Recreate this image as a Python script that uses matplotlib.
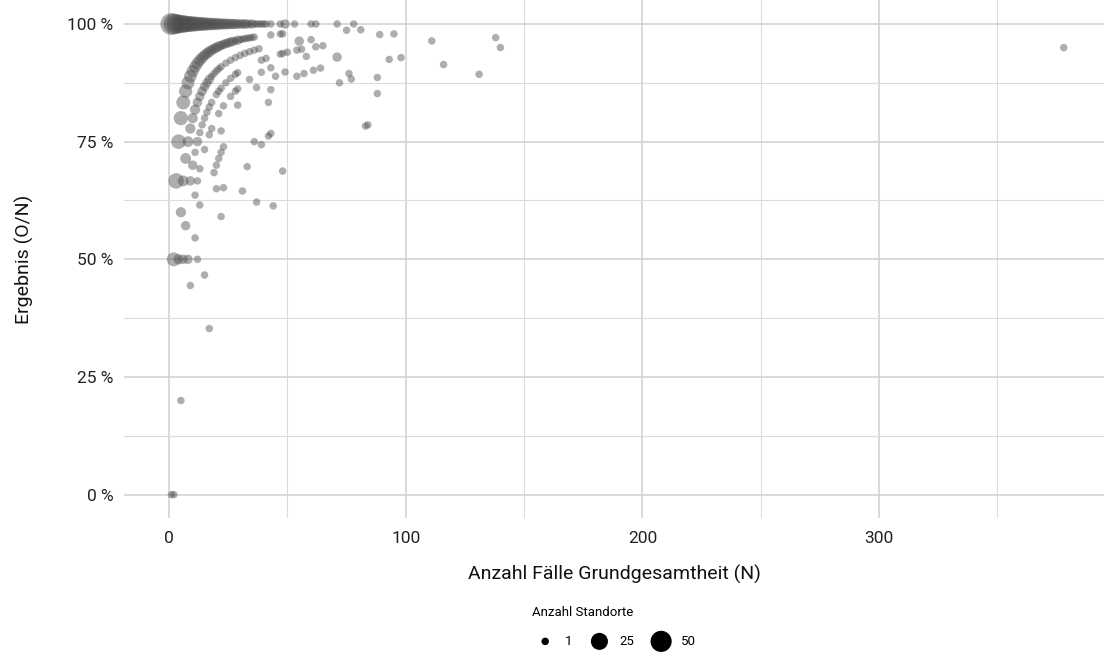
import numpy as np
import matplotlib
matplotlib.use("Agg")
import matplotlib.pyplot as plt
from matplotlib.ticker import MultipleLocator, FuncFormatter

plt.rcParams['font.family'] = ['Roboto', 'DejaVu Sans']

# Fälle Grundgesamtheit (N), davon erfüllt (O), Anzahl Standorte mit dieser Kombination
# O = N
n_voll = [1, 2, 3, 4, 5, 6, 7, 8, 9, 10, 11, 12, 13, 14, 15, 16, 17, 18, 19, 20,
          21, 22, 23, 24, 25, 26, 27, 28, 29, 30, 31, 32, 33, 34, 35, 36, 37, 38, 39, 40,
          41, 43, 47, 49, 53, 60, 62, 71, 78]
o_voll = [1, 2, 3, 4, 5, 6, 7, 8, 9, 10, 11, 12, 13, 14, 15, 16, 17, 18, 19, 20,
          21, 22, 23, 24, 25, 26, 27, 28, 29, 30, 31, 32, 33, 34, 35, 36, 37, 38, 39, 40,
          41, 43, 47, 49, 53, 60, 62, 71, 78]
s_voll = [56, 46, 40, 35, 31, 27, 24, 21, 19, 17, 15, 14, 12, 11, 10, 9, 8, 7, 7, 6,
          5, 5, 4, 4, 4, 3, 3, 3, 2, 2, 2, 2, 2, 1, 2, 1, 1, 1, 1, 1,
          1, 1, 1, 2, 1, 1, 1, 1, 1]

# O = N - 1
n_a = [2, 3, 4, 5, 6, 7, 8, 9, 10, 11, 12, 13, 14, 15, 16, 17, 18, 19, 20, 21,
       22, 23, 24, 25, 26, 27, 28, 29, 30, 31, 32, 33, 34, 35, 36, 43, 47, 48, 75, 81]
o_a = [1, 2, 3, 4, 5, 6, 7, 8, 9, 10, 11, 12, 13, 14, 15, 16, 17, 18, 19, 20,
       21, 22, 23, 24, 25, 26, 27, 28, 29, 30, 31, 32, 33, 34, 35, 42, 46, 47, 74, 80]
s_a = [12, 18, 14, 13, 12, 10, 9, 8, 7, 6, 6, 5, 5, 4, 4, 4, 3, 3, 3, 3,
       2, 2, 2, 2, 2, 2, 1, 2, 1, 1, 1, 1, 1, 1, 1, 1, 1, 1, 1, 1]

# O = N - 2
n_b = [4, 6, 8, 9, 10, 11, 12, 13, 14, 15, 16, 17, 18, 19, 20, 21, 22, 24, 26, 28,
       30, 32, 34, 36, 38, 55, 60, 89, 95]
o_b = [2, 4, 6, 7, 8, 9, 10, 11, 12, 13, 14, 15, 16, 17, 18, 19, 20, 22, 24, 26,
       28, 30, 32, 34, 36, 53, 58, 87, 93]
s_b = [3, 4, 4, 3, 3, 3, 2, 2, 2, 2, 2, 2, 1, 1, 1, 1, 1, 1, 1, 1,
       1, 1, 1, 1, 1, 2, 1, 1, 1]

# O = N - 3
n_c = [6, 9, 12, 13, 14, 15, 16, 17, 18, 20, 21, 22, 24, 26, 28, 29, 39, 41, 47, 48,
       50, 54, 56, 62, 65]
o_c = [3, 6, 9, 10, 11, 12, 13, 14, 15, 17, 18, 19, 21, 23, 25, 26, 36, 38, 44, 45,
       47, 51, 53, 59, 62]
s_c = [2, 2, 2, 1, 1, 1, 1, 1, 1, 1, 1, 1, 1, 1, 1, 1, 1, 1, 1, 1,
       1, 1, 1, 1, 1]

# übrige Standorte
n_rest = [8, 12, 17, 18, 21, 23, 26, 28, 22, 23, 22, 21, 20, 19, 7, 11, 15, 10, 13, 20,
          23, 31, 33, 48, 11, 13, 5, 22, 37, 44, 7, 11, 12, 15, 9, 17, 5, 1, 2, 29,
          42, 43, 45, 49, 39, 43, 37, 34, 29, 42, 43, 36, 39, 54, 57, 61, 64, 58, 71,
          72, 76, 77, 88, 88, 93, 98, 83, 84, 111, 116, 131, 138, 140, 378]
o_rest = [4, 8, 13, 14, 17, 19, 22, 24, 17, 17, 16, 15, 14, 13, 5, 8, 11, 7, 9, 13,
          15, 20, 23, 33, 7, 8, 3, 13, 23, 27, 4, 6, 6, 7, 4, 6, 1, 0, 0, 24,
          35, 39, 40, 44, 35, 37, 32, 30, 25, 32, 33, 27, 29, 48, 51, 55, 58, 54, 66,
          63, 68, 68, 78, 75, 86, 91, 65, 66, 107, 106, 117, 134, 133, 359]
s_rest = [2, 1, 1, 1, 1, 1, 1, 1, 1, 1, 1, 1, 1, 1, 4, 1, 1, 2, 1, 1,
          1, 1, 1, 1, 1, 1, 3, 1, 1, 1, 2, 1, 1, 1, 1, 1, 1, 1, 1, 1,
          1, 1, 1, 1, 1, 1, 1, 1, 1, 1, 1, 1, 1, 1, 1, 1, 1, 1, 2,
          1, 1, 1, 1, 1, 1, 1, 1, 1, 1, 1, 1, 1, 1, 1]

legend_werte = [1, 25, 50]

n_all = np.array(n_voll + n_a + n_b + n_c + n_rest, dtype=float)
o_all = np.array(o_voll + o_a + o_b + o_c + o_rest, dtype=float)
s_all = np.array(s_voll + s_a + s_b + s_c + s_rest, dtype=float)


def groesse(v):
    # Flächenskala wie scale_size(): Durchmesser in Pixel -> Fläche in pt^2
    d = 7.5 + 1.95 * np.sqrt(np.maximum(np.asarray(v, dtype=float) - 1, 0))
    return (d * 0.72) ** 2


fig = plt.figure(figsize=(11.04, 6.55), dpi=100)
ax = fig.add_axes([0.1126, 0.2089, 0.8874, 0.7904])

# große Punkte zuerst zeichnen
order = np.argsort(-s_all)
ax.scatter(n_all[order], (o_all / n_all)[order], s=groesse(s_all[order]),
           color='#4d4d4d', alpha=0.45, edgecolors='none', zorder=3)

ax.set_xlim(-18.9, 395)
ax.set_ylim(-0.05, 1.05)
ax.xaxis.set_major_locator(MultipleLocator(100))
ax.xaxis.set_minor_locator(MultipleLocator(50))
ax.yaxis.set_major_locator(MultipleLocator(0.25))
ax.yaxis.set_minor_locator(MultipleLocator(0.125))
ax.yaxis.set_major_formatter(FuncFormatter(lambda v, p: f"{v * 100:.0f} %"))

ax.grid(True, which='major', color='#d0d0d0', linewidth=1.1)
ax.grid(True, which='minor', color='#dcdcdc', linewidth=0.8)
ax.set_axisbelow(True)
for sp in ax.spines.values():
    sp.set_visible(False)
ax.tick_params(which='both', length=0)
ax.tick_params(axis='y', labelsize=12.5, colors='#222222', pad=8)
ax.tick_params(axis='x', labelsize=12.5, colors='#222222', pad=9)

ax.set_xlabel('Anzahl Fälle Grundgesamtheit (N)', fontsize=14, color='#111111', labelpad=14)
ax.set_ylabel('Ergebnis (O/N)', fontsize=14, color='#111111', labelpad=24)

# Größenlegende
handles = [ax.scatter([], [], s=groesse(v), color='black', edgecolors='none') for v in legend_werte]
leg = fig.legend(handles, [str(v) for v in legend_werte], title='Anzahl Standorte',
                 loc='upper left', bbox_to_anchor=(532 / 1104, 1 - 606 / 655),
                 ncol=3, frameon=False, fontsize=9.5, title_fontsize=9.5,
                 handletextpad=0.5, columnspacing=1.05, labelspacing=1.2,
                 alignment='left', borderaxespad=0, borderpad=0)

fig.savefig('out.png', dpi=100)
